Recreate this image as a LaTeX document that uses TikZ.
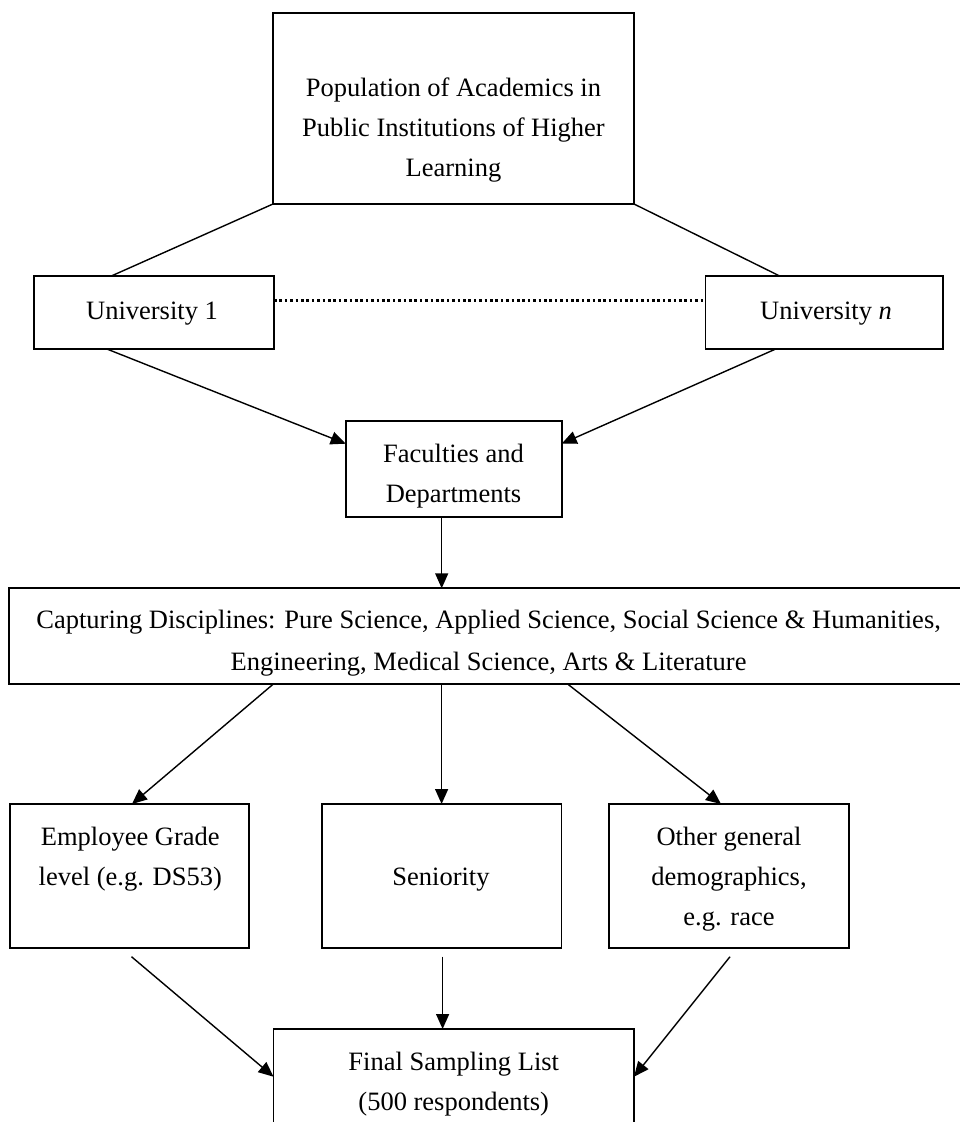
\documentclass[tikz,border=0pt]{standalone}
\usepackage{fontspec}
\setmainfont{Liberation Serif}
\usetikzlibrary{arrows.meta}
\newcommand{\mlines}[1]{\begin{tabular}[t]{@{}c@{}}#1\end{tabular}}
\begin{document}
\begin{tikzpicture}[x=1pt,y=-1pt,
  boxnode/.style={draw, line width=1.8pt, inner sep=0pt, outer sep=0pt},
  txt/.style={anchor=base, inner sep=0pt, font=\fontsize{26.5}{40}\selectfont},
  conn/.style={line width=1.4pt},
  arr/.style={conn, -{Triangle[length=15pt,width=13pt]}},
  dots/.style={line width=3pt, dash pattern=on 2.6pt off 2.8pt}]
\useasboundingbox (0,0) rectangle (960,1122);
\clip (0,0) rectangle (960,1122);

% boxes
\node[boxnode, minimum width=361pt, minimum height=191.3pt] (top) at (453.5,108.35) {};
\node[txt] (toptxt) at (453.5,96.7) {\mlines{Population of Academics in\\Public Institutions of Higher\\Learning}};

\node[boxnode, minimum width=240pt, minimum height=72.5pt] (u1) at (154,312.4) {};
\node[txt] (u1txt) at (152,319) {University 1};
\node[boxnode, minimum width=237.5pt, minimum height=72.5pt] (un) at (824.25,312.4) {};
\node[txt] (untxt) at (826,319) {University \textit{n}};

\node[boxnode, minimum width=216pt, minimum height=96pt] (fac) at (453.7,468.7) {};
\node[txt] (factxt) at (453.5,462) {\mlines{Faculties and\\Departments}};

\node[boxnode, minimum width=958.7pt, minimum height=96pt] (cap) at (488.65,636.3) {};
\node[txt] (captxt) at (488.6,628) {\fontsize{26.5}{42}\selectfont\mlines{Capturing Disciplines: Pure Science, Applied Science, Social Science \& Humanities,\\Engineering, Medical Science, Arts \& Literature}};

\node[boxnode, minimum width=239pt, minimum height=143.7pt] (emp) at (129.5,875.85) {};
\node[txt] (emptxt) at (130.3,845) {\mlines{Employee Grade\\level (e.g. DS53)}};
\node[boxnode, minimum width=239.8pt, minimum height=143.7pt] (sen) at (441.6,875.85) {};
\node[txt] (sentxt) at (441,885) {Seniority};
\node[boxnode, minimum width=240pt, minimum height=143.7pt] (oth) at (729,875.85) {};
\node[txt] (othtxt) at (729,845) {\mlines{Other general\\demographics,\\e.g. race}};

\node[boxnode, minimum width=360.5pt, minimum height=120pt] (fin) at (453.75,1089) {};
\node[txt] (fintxt) at (453.75,1070) {\mlines{Final Sampling List\\(500 respondents)}};

% connectors
\draw[conn] (top.south west) -- ([xshift=77pt]u1.north west);
\draw[conn] (top.south east) -- ([xshift=74.5pt]un.north west);
\draw[dots] ([yshift=11.7pt]u1.east) -- ([yshift=11.7pt]un.west);
\draw[arr] ([xshift=72pt]u1.south west) -- ([yshift=25pt]fac.west);
\draw[arr] ([xshift=71pt]un.south west) -- ([yshift=25pt]fac.east);
\coordinate (f1) at ([xshift=96pt]fac.south west);
\draw[arr] (f1) -- (f1 |- cap.north);
\draw[arr] ([xshift=263.7pt]cap.south west) -- ([xshift=122pt]emp.north west);
\draw[arr] (sen.north |- cap.south) -- (sen.north);
\draw[arr] ([xshift=558.7pt]cap.south west) -- ([xshift=112pt]oth.north west);
\coordinate (e1) at ([xshift=2pt,yshift=-9pt]emp.south);
\coordinate (s1) at ([xshift=1pt,yshift=-9pt]sen.south);
\coordinate (o1) at ([xshift=1pt,yshift=-9pt]oth.south);
\draw[arr] (e1) -- ([yshift=-47.7pt]fin.north west);
\draw[arr] (s1) -- (s1 |- fin.north);
\draw[arr] (o1) -- ([yshift=-47.7pt]fin.north east);
\end{tikzpicture}
\end{document}
